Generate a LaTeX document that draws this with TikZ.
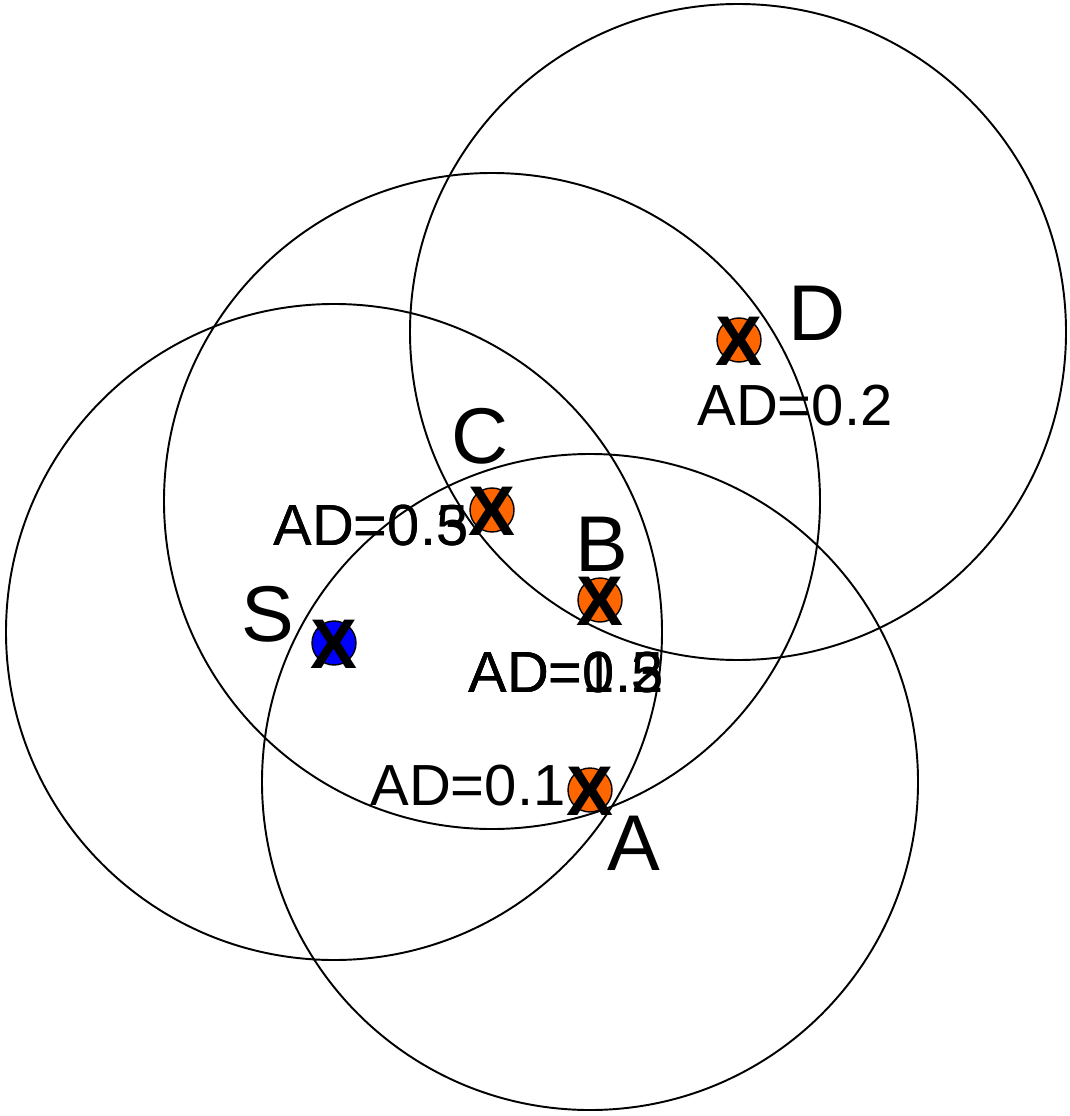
\documentclass[tikz,border=0pt]{standalone}
\usepackage{fontspec}
\setmainfont{Liberation Sans}
\definecolor{nodeorange}{HTML}{FF6600}
\definecolor{nodeblue}{HTML}{0000FF}
\tikzset{
  radiorange/.style={line width=1.1pt},
  station/.style={circle,draw,line width=0.8pt,fill=nodeorange,minimum size=8.8mm,inner sep=0pt},
  source/.style={station,fill=nodeblue},
  cross/.style={inner sep=0pt,font=\fontsize{40}{40}\selectfont\bfseries},
  tag/.style={inner sep=0pt,anchor=base west,font=\fontsize{45}{45}\selectfont},
  ad/.style={inner sep=0pt,anchor=base west,font=\fontsize{33}{33}\selectfont},
}
\begin{document}
\begin{tikzpicture}[x=0.2mm,y=-0.2mm]
  \useasboundingbox (0,0) rectangle (1070,1116);
  % transmission ranges
  \draw[radiorange] (334,632) circle (65.6mm);
  \draw[radiorange] (492,501) circle (65.6mm);
  \draw[radiorange] (738,332) circle (65.6mm);
  \draw[radiorange] (590,782) circle (65.6mm);

  % distance values (some overlap)
  \node[ad] (adC1) at (273,545) {AD=0.5};
  \node[ad] (adC2) at (273,545) {AD=0.3};
  \node[ad] (adB1) at (468,692) {AD=0.5};
  \node[ad] (adB2) at (468,692) {AD=1.3};
  \node[ad] (adB3) at (468,692) {AD=0.2};
  \node[ad] (adA)  at (370,805) {AD=0.1};
  \node[ad] (adD)  at (697,425) {AD=0.2};

  \node[source]  (s) at (334,643) {};
  \node[station] (c) at (492,510) {};
  \node[station] (b) at (600,600) {};
  \node[station] (a) at (590,790) {};
  \node[station] (d) at (739,340) {};
  \foreach \n in {s,c,b,a,d}
    \node[cross] (x\n) at ([yshift=-0.3mm]\n) {X};

  \node[tag] (tS) at (241,641) {S};
  \node[tag] (tC) at (451,463) {C};
  \node[tag] (tB) at (575,571) {B};
  \node[tag] (tA) at (607,870) {A};
  \node[tag] (tD) at (788,340) {D};
\end{tikzpicture}
\end{document}
